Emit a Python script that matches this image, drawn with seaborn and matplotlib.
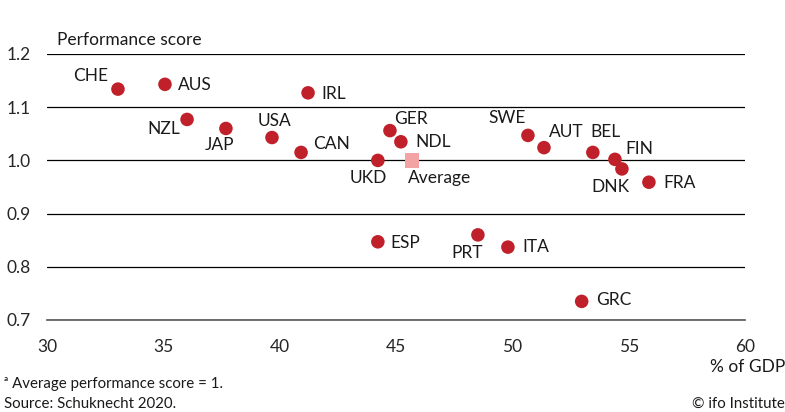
import pandas as pd
import seaborn as sns
import matplotlib.pyplot as plt

# Data
countries = ["CHE", "AUS", "IRL", "NZL", "JAP", "USA", "CAN", "UKD", "GER", "NDL",
             "SWE", "AUT", "BEL", "FIN", "DNK", "FRA", "ESP", "PRT", "ITA", "GRC"]
spending = [33.05, 35.07, 41.22, 36.02, 37.69, 39.67, 40.92, 44.22, 44.74, 45.21,
            50.67, 51.36, 53.46, 54.41, 54.71, 55.87, 44.22, 48.52, 49.81, 52.98]
score = [1.134, 1.143, 1.127, 1.077, 1.060, 1.043, 1.015, 1.000, 1.056, 1.035,
         1.047, 1.024, 1.015, 1.002, 0.984, 0.959, 0.847, 0.860, 0.837, 0.735]
avg_spending = [45.69]
avg_score = [1.0]

df = pd.DataFrame({"country": countries, "spending": spending, "score": score})
avg = pd.DataFrame({"spending": avg_spending, "score": avg_score})

# label offsets in pixels (dx, dy, horizontal alignment)
offsets = {
    "CHE": (-10, 13, "right"), "AUS": (13, -1, "left"), "IRL": (13, -1, "left"),
    "NZL": (-7, -10, "right"), "JAP": (-6, -17, "center"), "USA": (3, 17, "center"),
    "CAN": (12, 8, "left"), "UKD": (-10, -18, "center"), "GER": (4, 12, "left"),
    "NDL": (14, 0, "left"), "SWE": (-2, 17, "right"), "AUT": (5, 16, "left"),
    "BEL": (-2, 20, "left"), "FIN": (10, 10, "left"), "DNK": (-11, -18, "center"),
    "FRA": (14, -1, "left"), "ESP": (13, -1, "left"), "PRT": (-11, -18, "center"),
    "ITA": (14, 0, "left"), "GRC": (14, 1, "left"),
}

sns.set_style("white")
plt.rcParams["font.family"] = ["Lato", "DejaVu Sans"]

fig = plt.figure(figsize=(7.85, 4.12), dpi=100)
ax = fig.add_axes([47 / 785, 1 - 320 / 412, 698 / 785, 266 / 412])

red = "#c0202a"
fs = 12.5
sns.scatterplot(data=df, x="spending", y="score", color=red, s=95,
                edgecolor="none", ax=ax, zorder=3, clip_on=False)
sns.scatterplot(data=avg, x="spending", y="score", color="#f4a3a5", marker="s",
                s=110, edgecolor="none", ax=ax, zorder=3)

for c, x, y in zip(countries, spending, score):
    dx, dy, ha = offsets[c]
    ax.annotate(c, (x, y), xytext=(dx, dy), textcoords="offset pixels",
                ha=ha, va="center", fontsize=fs, color="#1a1a1a")
ax.annotate("Average", (avg_spending[0], avg_score[0]), xytext=(-4, -18),
            textcoords="offset pixels", ha="left", va="center",
            fontsize=fs, color="#1a1a1a")

ax.set_xlim(30, 60)
ax.set_ylim(0.7, 1.2)
ax.set_xticks(range(30, 61, 5))
ax.set_yticks([0.7, 0.8, 0.9, 1.0, 1.1, 1.2])
ax.set_yticklabels(["0.7", "0.8", "0.9", "1.0", "1.1", "1.2"])
ax.grid(axis="y", color="black", linewidth=0.9)
ax.set_axisbelow(True)
for s in ["top", "right", "left"]:
    ax.spines[s].set_visible(False)
ax.spines["bottom"].set_color("#555555")
ax.spines["bottom"].set_linewidth(1.2)
ax.tick_params(axis="x", length=6, width=1.2, color="#555555", direction="out",
               labelsize=fs, pad=8)
ax.tick_params(axis="y", length=0, labelsize=fs, pad=12)
ax.set_xlabel("")
ax.set_ylabel("")

fig.text(57 / 785, 1 - 40 / 412, "Performance score", fontsize=fs,
         va="center", ha="left", color="#1a1a1a")
fig.text(785 / 785, 1 - 367 / 412, "% of GDP", fontsize=fs,
         va="center", ha="right", color="#1a1a1a")
fig.text(4 / 785, 1 - 384 / 412, "ᵃ Average performance score = 1.", fontsize=10.8,
         va="center", ha="left", color="#1a1a1a")
fig.text(4 / 785, 1 - 404 / 412, "Source: Schuknecht 2020.", fontsize=10.8,
         va="center", ha="left", color="#1a1a1a")
fig.text(785 / 785, 1 - 404 / 412, "© ifo Institute", fontsize=10.8,
         va="center", ha="right", color="#1a1a1a")

fig.savefig("out.png", dpi=100)
